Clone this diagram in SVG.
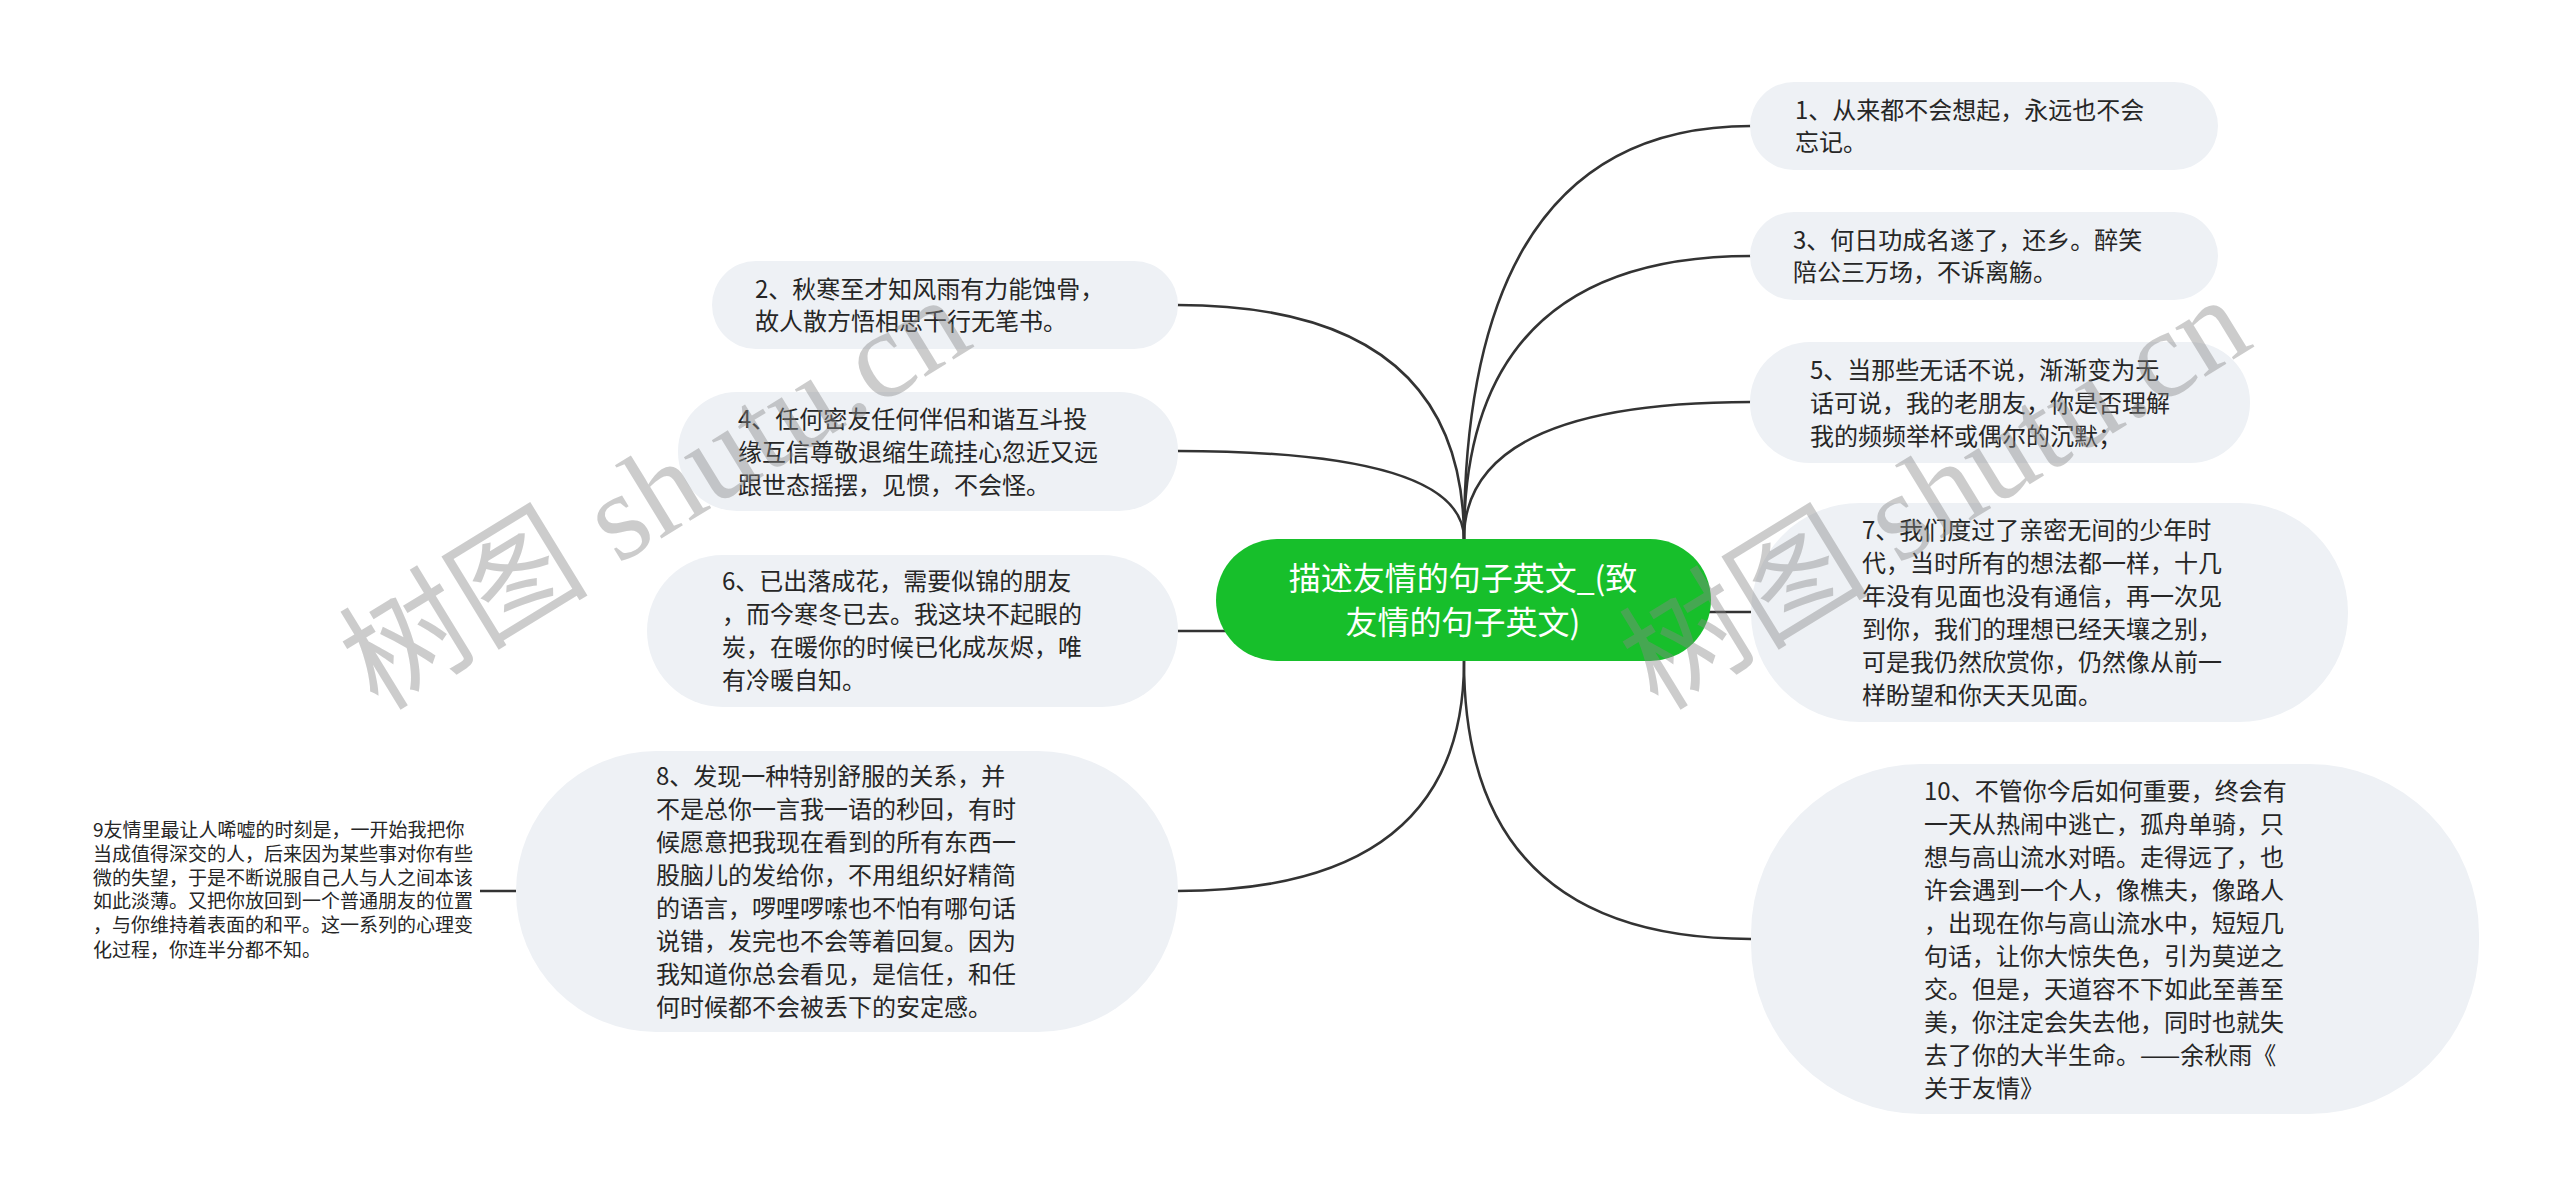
<svg xmlns="http://www.w3.org/2000/svg" width="2560" height="1196" viewBox="0 0 2560 1196">
<style>
.bg{fill:#ffffff}
.link{fill:none;stroke:#333333;stroke-width:2.5}
.box{fill:#eef1f5}
.t{font-family:"Noto Sans CJK SC","Noto Sans",sans-serif;font-size:24px;fill:#262626}
.t9{font-family:"Noto Sans CJK SC","Noto Sans",sans-serif;font-size:19px;fill:#262626}
.root{fill:#17bf2b}
.rt{font-family:"Noto Sans CJK SC","Noto Sans",sans-serif;font-size:32px;fill:#ffffff;text-anchor:middle}
.wm{font-family:"Liberation Serif","Noto Sans CJK SC",serif;font-size:125px;fill:#888888;opacity:0.42}
</style>
<rect class="bg" x="0" y="0" width="2560" height="1196"/>
<g id="connectors">
<path class="link" d="M1464 539 Q1464 126 1751 126"/>
<path class="link" d="M1464 539 Q1464 256 1751 256"/>
<path class="link" d="M1464 539 Q1464 402 1751 402"/>
<path class="link" d="M1464 539 Q1464 305 1177 305"/>
<path class="link" d="M1464 539 Q1464 451 1177 451"/>
<path class="link" d="M1690 612 L1751 612"/>
<path class="link" d="M1240 631 L1177 631"/>
<path class="link" d="M1464 661 Q1464 891 1177 891"/>
<path class="link" d="M1464 661 Q1464 939 1751 939"/>
<path class="link" d="M516 891 L480 891"/>
</g>
<g id="root">
<rect class="root" x="1216" y="539" width="495" height="122" rx="61"/>
<text class="rt" x="1463" y="590">描述友情的句子英文_(致</text>
<text class="rt" x="1463" y="634">友情的句子英文)</text>
</g>
<g id="n1">
<rect class="box" x="1750" y="82" width="468" height="88" rx="44"/>
<text class="t" x="1795" y="119">1、从来都不会想起，永远也不会</text>
<text class="t" x="1795" y="151">忘记。</text>
</g>
<g id="n3">
<rect class="box" x="1750" y="212" width="468" height="88" rx="44"/>
<text class="t" x="1793" y="249">3、何日功成名遂了，还乡。醉笑</text>
<text class="t" x="1793" y="281">陪公三万场，不诉离觞。</text>
</g>
<g id="n5">
<rect class="box" x="1750" y="342" width="500" height="121" rx="60"/>
<text class="t" x="1810" y="379">5、当那些无话不说，渐渐变为无</text>
<text class="t" x="1810" y="412">话可说，我的老朋友，你是否理解</text>
<text class="t" x="1810" y="445">我的频频举杯或偶尔的沉默；</text>
</g>
<g id="n7">
<rect class="box" x="1751" y="503" width="597" height="219" rx="109"/>
<text class="t" x="1862" y="539">7、我们度过了亲密无间的少年时</text>
<text class="t" x="1862" y="572">代，当时所有的想法都一样，十几</text>
<text class="t" x="1862" y="605">年没有见面也没有通信，再一次见</text>
<text class="t" x="1862" y="638">到你，我们的理想已经天壤之别，</text>
<text class="t" x="1862" y="671">可是我仍然欣赏你，仍然像从前一</text>
<text class="t" x="1862" y="704">样盼望和你天天见面。</text>
</g>
<g id="n10">
<rect class="box" x="1751" y="764" width="728" height="350" rx="170"/>
<text class="t" x="1924" y="800">10、不管你今后如何重要，终会有</text>
<text class="t" x="1924" y="833">一天从热闹中逃亡，孤舟单骑，只</text>
<text class="t" x="1924" y="866">想与高山流水对晤。走得远了，也</text>
<text class="t" x="1924" y="899">许会遇到一个人，像樵夫，像路人</text>
<text class="t" x="1924" y="932">，出现在你与高山流水中，短短几</text>
<text class="t" x="1924" y="965">句话，让你大惊失色，引为莫逆之</text>
<text class="t" x="1924" y="998">交。但是，天道容不下如此至善至</text>
<text class="t" x="1924" y="1031">美，你注定会失去他，同时也就失</text>
<text class="t" x="1924" y="1064">去了你的大半生命。——余秋雨《</text>
<text class="t" x="1924" y="1097">关于友情》</text>
</g>
<g id="n2">
<rect class="box" x="712" y="261" width="466" height="88" rx="44"/>
<text class="t" x="755" y="298">2、秋寒至才知风雨有力能蚀骨，</text>
<text class="t" x="755" y="330">故人散方悟相思千行无笔书。</text>
</g>
<g id="n4">
<rect class="box" x="678" y="392" width="500" height="119" rx="59"/>
<text class="t" x="738" y="428">4、任何密友任何伴侣和谐互斗投</text>
<text class="t" x="738" y="461">缘互信尊敬退缩生疏挂心忽近又远</text>
<text class="t" x="738" y="494">跟世态摇摆，见惯，不会怪。</text>
</g>
<g id="n6">
<rect class="box" x="647" y="555" width="531" height="152" rx="76"/>
<text class="t" x="722" y="590">6、已出落成花，需要似锦的朋友</text>
<text class="t" x="722" y="623">，而今寒冬已去。我这块不起眼的</text>
<text class="t" x="722" y="656">炭，在暖你的时候已化成灰烬，唯</text>
<text class="t" x="722" y="689">有冷暖自知。</text>
</g>
<g id="n8">
<rect class="box" x="516" y="751" width="662" height="281" rx="140"/>
<text class="t" x="656" y="785">8、发现一种特别舒服的关系，并</text>
<text class="t" x="656" y="818">不是总你一言我一语的秒回，有时</text>
<text class="t" x="656" y="851">候愿意把我现在看到的所有东西一</text>
<text class="t" x="656" y="884">股脑儿的发给你，不用组织好精简</text>
<text class="t" x="656" y="917">的语言，啰哩啰嗦也不怕有哪句话</text>
<text class="t" x="656" y="950">说错，发完也不会等着回复。因为</text>
<text class="t" x="656" y="983">我知道你总会看见，是信任，和任</text>
<text class="t" x="656" y="1016">何时候都不会被丢下的安定感。</text>
</g>
<g id="n9">
<text class="t9" x="93" y="837">9友情里最让人唏嘘的时刻是，一开始我把你</text>
<text class="t9" x="93" y="861">当成值得深交的人，后来因为某些事对你有些</text>
<text class="t9" x="93" y="885">微的失望，于是不断说服自己人与人之间本该</text>
<text class="t9" x="93" y="908">如此淡薄。又把你放回到一个普通朋友的位置</text>
<text class="t9" x="93" y="932">，与你维持着表面的和平。这一系列的心理变</text>
<text class="t9" x="93" y="957">化过程，你连半分都不知。</text>
</g>
<g id="watermark">
<text class="wm" transform="translate(378,712) rotate(-31.5)">树图 shutu.cn</text>
<text class="wm" transform="translate(1658,712) rotate(-31.5)">树图 shutu.cn</text>
</g>
</svg>
